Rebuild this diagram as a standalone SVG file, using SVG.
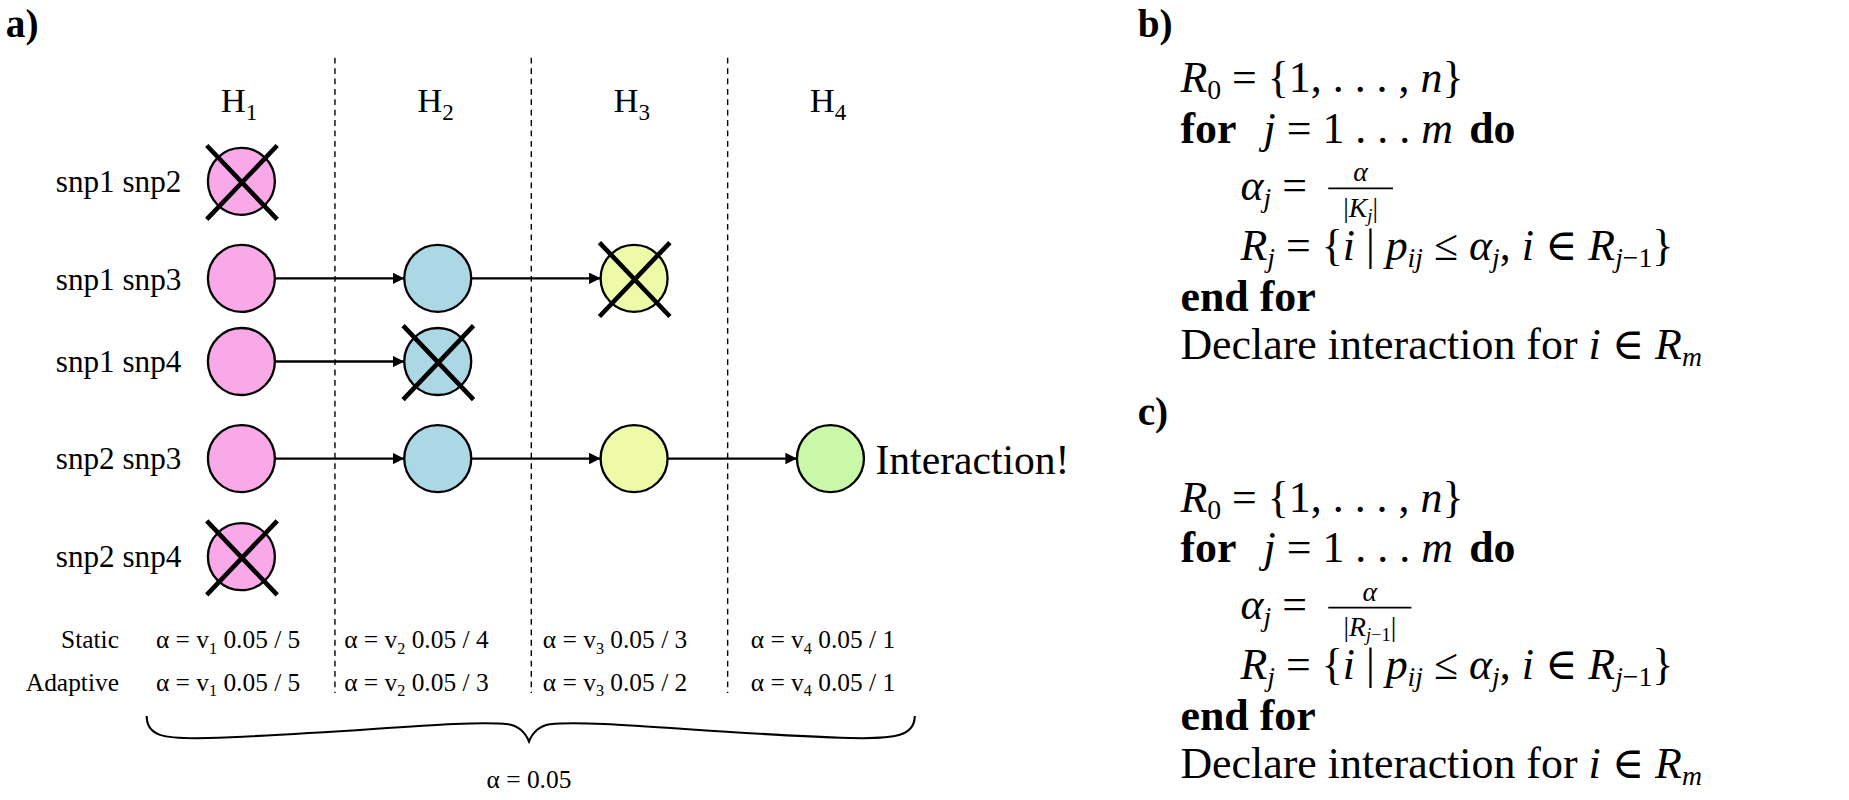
<svg xmlns="http://www.w3.org/2000/svg" width="1849" height="800" viewBox="0 0 1849 800">
<style>
text{font-family:"Liberation Serif","DejaVu Serif",serif;fill:#000}
.lbl{font-size:27px;text-anchor:end}
.h{font-size:30px;text-anchor:middle}
.al{font-size:22px}
.m{font-size:38px}
.it{font-style:italic}
.b{font-weight:bold}
.c{stroke:#000;stroke-width:2}
.x{stroke:#000;stroke-width:4}
.dash{stroke:#000;stroke-width:1.2;stroke-dasharray:5,4}
.pk{fill:#f9a8e8}.bl{fill:#acd8e6}.yl{fill:#eefaa8}.gr{fill:#c8f8a8}
</style>
<defs><marker id="ar" viewBox="0 0 10 10" refX="10" refY="5" markerWidth="10" markerHeight="10" orient="auto" markerUnits="userSpaceOnUse"><path d="M0,0L10,5L0,10z"/></marker></defs>
<g transform="scale(1.155)">
<text x="5" y="32" class="b" font-size="34">a)</text>
<g id="grid">
<line class="dash" x1="290" y1="50" x2="290" y2="600"/>
<line class="dash" x1="460" y1="50" x2="460" y2="600"/>
<line class="dash" x1="630" y1="50" x2="630" y2="600"/>
</g>
<g id="headers">
<text class="h" x="207" y="97">H<tspan font-size="20" dy="7">1</tspan></text>
<text class="h" x="377" y="97">H<tspan font-size="20" dy="7">2</tspan></text>
<text class="h" x="547" y="97">H<tspan font-size="20" dy="7">3</tspan></text>
<text class="h" x="717" y="97">H<tspan font-size="20" dy="7">4</tspan></text>
</g>
<g id="rowlabels">
<text class="lbl" x="157" y="166">snp1 snp2</text>
<text class="lbl" x="157" y="251">snp1 snp3</text>
<text class="lbl" x="157" y="322">snp1 snp4</text>
<text class="lbl" x="157" y="406">snp2 snp3</text>
<text class="lbl" x="157" y="491">snp2 snp4</text>
</g>
<g id="connectors">
<line class="c" x1="238" y1="241" x2="350" y2="241" marker-end="url(#ar)"/>
<line class="c" x1="408" y1="241" x2="520" y2="241" marker-end="url(#ar)"/>
<line class="c" x1="238" y1="313" x2="350" y2="313" marker-end="url(#ar)"/>
<line class="c" x1="238" y1="397" x2="350" y2="397" marker-end="url(#ar)"/>
<line class="c" x1="408" y1="397" x2="520" y2="397" marker-end="url(#ar)"/>
<line class="c" x1="578" y1="397" x2="690" y2="397" marker-end="url(#ar)"/>
</g>
<g id="n11"><circle class="c pk" cx="209" cy="157" r="29"/><path class="x" d="M179,126L240,190M240,126L179,190"/></g>
<g id="n21"><circle class="c pk" cx="209" cy="241" r="29"/></g>
<g id="n22"><circle class="c bl" cx="379" cy="241" r="29"/></g>
<g id="n23"><circle class="c yl" cx="549" cy="241" r="29"/><path class="x" d="M519,210L580,274M580,210L519,274"/></g>
<g id="n31"><circle class="c pk" cx="209" cy="313" r="29"/></g>
<g id="n32"><circle class="c bl" cx="379" cy="313" r="29"/><path class="x" d="M349,282L410,346M410,282L349,346"/></g>
<g id="n41"><circle class="c pk" cx="209" cy="397" r="29"/></g>
<g id="n42"><circle class="c bl" cx="379" cy="397" r="29"/></g>
<g id="n43"><circle class="c yl" cx="549" cy="397" r="29"/></g>
<g id="n44"><circle class="c gr" cx="719" cy="397" r="29"/></g>
<g id="n51"><circle class="c pk" cx="209" cy="482" r="29"/><path class="x" d="M179,451L240,515M240,451L179,515"/></g>
<text x="758" y="410" font-size="36">Interaction!</text>
<g id="alphas" class="al">
<text x="103" y="561" text-anchor="end">Static</text>
<text x="103" y="598" text-anchor="end">Adaptive</text>
<text x="135" y="561">α = v<tspan font-size="14" dy="5">1</tspan><tspan dy="-5"> 0.05 / 5</tspan></text>
<text x="298" y="561">α = v<tspan font-size="14" dy="5">2</tspan><tspan dy="-5"> 0.05 / 4</tspan></text>
<text x="470" y="561">α = v<tspan font-size="14" dy="5">3</tspan><tspan dy="-5"> 0.05 / 3</tspan></text>
<text x="650" y="561">α = v<tspan font-size="14" dy="5">4</tspan><tspan dy="-5"> 0.05 / 1</tspan></text>
<text x="135" y="598">α = v<tspan font-size="14" dy="5">1</tspan><tspan dy="-5"> 0.05 / 5</tspan></text>
<text x="298" y="598">α = v<tspan font-size="14" dy="5">2</tspan><tspan dy="-5"> 0.05 / 3</tspan></text>
<text x="470" y="598">α = v<tspan font-size="14" dy="5">3</tspan><tspan dy="-5"> 0.05 / 2</tspan></text>
<text x="650" y="598">α = v<tspan font-size="14" dy="5">4</tspan><tspan dy="-5"> 0.05 / 1</tspan></text>
<text x="458" y="682" text-anchor="middle">α = 0.05</text>
</g>
<path d="M127,620C127,637 140,640 180,639C300,635 400,623 440,627C452,629 456,637 458,642C460,637 464,629 476,627C516,623 616,635 736,639C776,640 792,637 792,620" fill="none" stroke="#000" stroke-width="1.8"/>
<g id="algb" class="m">
<text x="985" y="32" class="b" font-size="34">b)</text>
<text x="1022" y="80"><tspan class="it">R</tspan><tspan font-size="24" dy="6">0</tspan><tspan dy="-6"> = {1, . . . , </tspan><tspan class="it">n</tspan>}</text>
<text x="1022" y="124"><tspan class="b">for</tspan><tspan x="1094" class="it">j</tspan> = 1 . . . <tspan class="it">m</tspan><tspan x="1272" class="b">do</tspan></text>
<text x="1074" y="173"><tspan class="it">α</tspan><tspan class="it" font-size="24" dy="6">j</tspan><tspan dy="-6"> = </tspan></text>
<text x="1178" y="157" font-size="24" class="it" text-anchor="middle">α</text>
<line x1="1150" y1="163" x2="1206" y2="163" stroke="#000" stroke-width="1.5"/>
<text x="1178" y="188" font-size="24" text-anchor="middle">|<tspan class="it">K</tspan><tspan class="it" font-size="16" dy="4">j</tspan><tspan dy="-4">|</tspan></text>
<text x="1074" y="225"><tspan class="it">R</tspan><tspan class="it" font-size="24" dy="6">j</tspan><tspan dy="-6"> = {</tspan><tspan class="it">i</tspan> | <tspan class="it">p</tspan><tspan class="it" font-size="24" dy="6">ij</tspan><tspan dy="-6"> ≤ </tspan><tspan class="it">α</tspan><tspan class="it" font-size="24" dy="6">j</tspan><tspan dy="-6">, </tspan><tspan class="it">i</tspan> ∈ <tspan class="it">R</tspan><tspan class="it" font-size="24" dy="6">j</tspan><tspan font-size="24">−1</tspan><tspan dy="-6">}</tspan></text>
<text x="1022" y="269" class="b">end for</text>
<text x="1022" y="311">Declare interaction for <tspan class="it">i</tspan> ∈ <tspan class="it">R</tspan><tspan class="it" font-size="24" dy="6">m</tspan></text>
</g>
<g id="algc" class="m">
<text x="985" y="368" class="b" font-size="34">c)</text>
<text x="1022" y="443"><tspan class="it">R</tspan><tspan font-size="24" dy="6">0</tspan><tspan dy="-6"> = {1, . . . , </tspan><tspan class="it">n</tspan>}</text>
<text x="1022" y="487"><tspan class="b">for</tspan><tspan x="1094" class="it">j</tspan> = 1 . . . <tspan class="it">m</tspan><tspan x="1272" class="b">do</tspan></text>
<text x="1074" y="536"><tspan class="it">α</tspan><tspan class="it" font-size="24" dy="6">j</tspan><tspan dy="-6"> = </tspan></text>
<text x="1186" y="520" font-size="24" class="it" text-anchor="middle">α</text>
<line x1="1150" y1="526" x2="1222" y2="526" stroke="#000" stroke-width="1.5"/>
<text x="1186" y="551" font-size="24" text-anchor="middle">|<tspan class="it">R</tspan><tspan class="it" font-size="16" dy="4">j</tspan><tspan font-size="16">−1</tspan><tspan dy="-4">|</tspan></text>
<text x="1074" y="588"><tspan class="it">R</tspan><tspan class="it" font-size="24" dy="6">j</tspan><tspan dy="-6"> = {</tspan><tspan class="it">i</tspan> | <tspan class="it">p</tspan><tspan class="it" font-size="24" dy="6">ij</tspan><tspan dy="-6"> ≤ </tspan><tspan class="it">α</tspan><tspan class="it" font-size="24" dy="6">j</tspan><tspan dy="-6">, </tspan><tspan class="it">i</tspan> ∈ <tspan class="it">R</tspan><tspan class="it" font-size="24" dy="6">j</tspan><tspan font-size="24">−1</tspan><tspan dy="-6">}</tspan></text>
<text x="1022" y="632" class="b">end for</text>
<text x="1022" y="674">Declare interaction for <tspan class="it">i</tspan> ∈ <tspan class="it">R</tspan><tspan class="it" font-size="24" dy="6">m</tspan></text>
</g>
</g>
</svg>
